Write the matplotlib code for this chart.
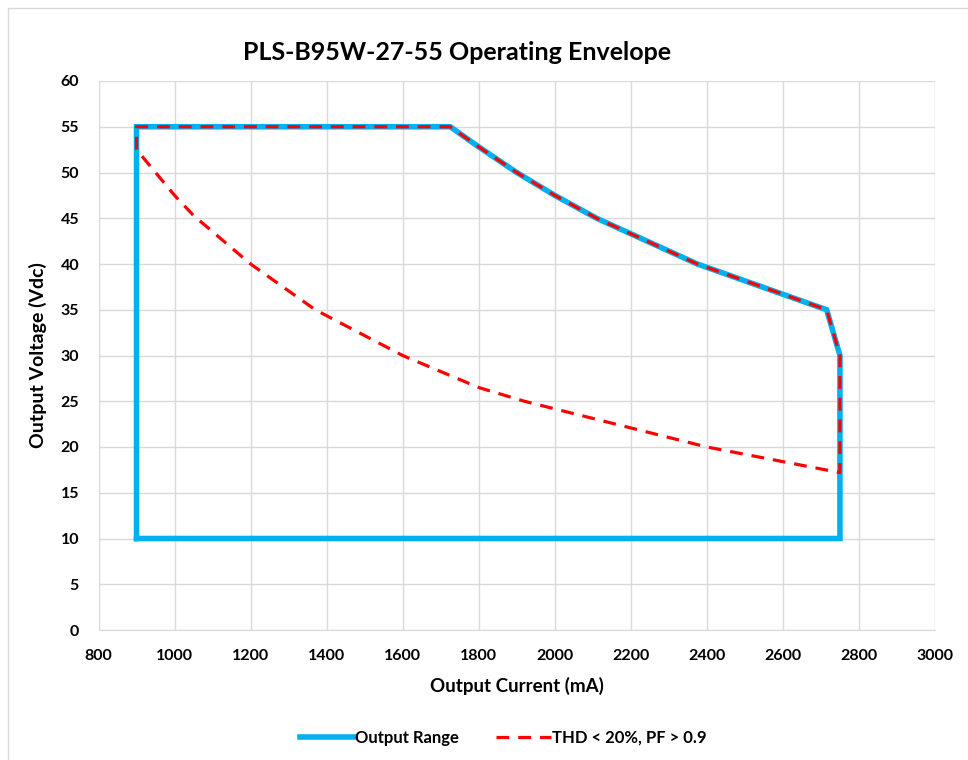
import matplotlib
matplotlib.use("Agg")
import matplotlib.pyplot as plt
from matplotlib.patches import Rectangle

plt.rcParams['font.family'] = ['Lato', 'DejaVu Sans']

title = "PLS-B95W-27-55 Operating Envelope"
xlabel = "Output Current (mA)"
ylabel = "Output Voltage (Vdc)"
series_names = ["Output Range", "THD < 20%, PF > 0.9"]

# Output range envelope
range_current = [900, 900, 1725, 1800, 1900, 2000, 2110, 2375, 2715, 2750, 2750, 900]
range_voltage = [10, 55, 55, 52.8, 50, 47.5, 45, 40, 35, 30, 10, 10]

# THD/PF region
thd_current = [900, 900, 1725, 1800, 1900, 2000, 2110, 2375, 2715, 2750, 2750,
               2400, 1920, 1800, 1600, 1370, 1200, 1050, 1000, 900]
thd_voltage = [52.5, 55, 55, 52.8, 50, 47.5, 45, 40, 35, 30, 17.2,
               20, 25, 26.5, 30, 35, 40, 45.3, 47.5, 52.5]

xticks = list(range(800, 3001, 200))
yticks = list(range(0, 61, 5))

fig = plt.figure(figsize=(9.68, 7.6), dpi=100)
fig.patches.append(Rectangle((8/968, -0.1), 1.2, (760-8)/760 + 0.1,
                             transform=fig.transFigure, fill=False,
                             edgecolor='#d9d9d9', linewidth=1))
ax = fig.add_axes([98.5/968, 1-630/760, (935-98.5)/968, (630-81)/760])

ax.plot(range_current, range_voltage, color='#00b0f0', linewidth=4,
        solid_joinstyle='miter', label=series_names[0], zorder=3)
ax.plot(thd_current, thd_voltage, color='#ff0000', linewidth=2.3,
        linestyle=(0, (4, 2.8)), label=series_names[1], zorder=4)

ax.set_xlim(800, 3000)
ax.set_ylim(0, 60)
ax.set_xticks(xticks)
ax.set_yticks(yticks)
ax.grid(True, color='#d9d9d9', linewidth=1)
ax.set_axisbelow(True)
for s in ['top', 'right', 'left']:
    ax.spines[s].set_visible(False)
ax.spines['bottom'].set_color('#d9d9d9')
ax.tick_params(length=0, labelsize=11.5, pad=14)
ax.tick_params(axis='y', pad=14)
for lab in ax.get_xticklabels() + ax.get_yticklabels():
    lab.set_fontweight('bold')

ax.set_xlabel(xlabel, fontsize=13.5, fontweight='bold', labelpad=10)
ax.set_ylabel(ylabel, fontsize=14, fontweight='bold', labelpad=10)
fig.text(457/968, 1-52/760, title, fontsize=18, fontweight='bold',
         ha='center', va='center')

leg = fig.legend(loc='center', bbox_to_anchor=(503/968, 1-738/760), ncol=2,
                 frameon=False, fontsize=12, handlelength=3.3,
                 columnspacing=2.2, handletextpad=0.05)
for t in leg.get_texts():
    t.set_fontweight('bold')

fig.savefig("out.png", dpi=100)
